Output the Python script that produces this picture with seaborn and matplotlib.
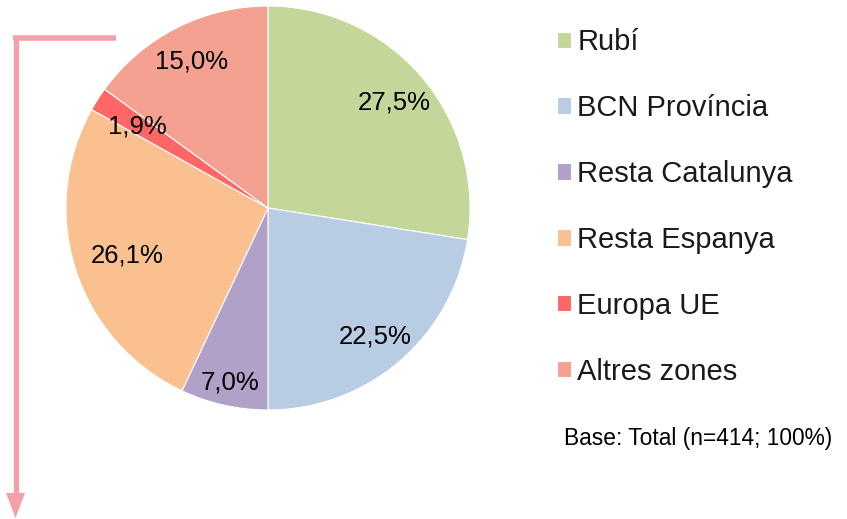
import matplotlib
matplotlib.use("Agg")
import matplotlib.pyplot as plt
import numpy as np
import seaborn as sns
from matplotlib.lines import Line2D
from matplotlib.patches import FancyArrow

sns.set_theme(style="white")
plt.rcParams['font.family'] = ['Liberation Sans', 'DejaVu Sans']

zones  = ['Rubí', 'BCN Província', 'Resta Catalunya', 'Resta Espanya', 'Europa UE', 'Altres zones']
pct    = [27.5, 22.5, 7.0, 26.1, 1.9, 15.0]
colors = ['#C4D79B', '#B8CCE4', '#B1A0C7', '#FAC090', '#FF6666', '#F5A192']
lab_r  = [0.82, 0.82, 0.87, 0.73, 0.77, 0.83]

W, H = 847, 519
fig = plt.figure(figsize=(W / 100, H / 100), dpi=100)
ax = fig.add_axes([66 / W, (H - 410) / H, 404 / W, 404 / H])

pal = sns.color_palette(colors)
wedges, _ = ax.pie(pct, colors=pal, startangle=90, counterclock=False,
                   radius=1, wedgeprops=dict(edgecolor='white', linewidth=0.8))
ax.set_xlim(-1, 1)
ax.set_ylim(-1, 1)
ax.set_aspect('equal')
ax.axis('off')

# percentage labels
cum = np.cumsum([0] + pct[:-1])
for v, c, r in zip(pct, cum, lab_r):
    ang = np.deg2rad(90 - (c + v / 2) * 3.6)
    ax.text(r * np.cos(ang), r * np.sin(ang), f"{v:.1f}%".replace('.', ','),
            ha='center', va='center_baseline', fontsize=18.5, color='black')

# legend
leg = fig.legend(wedges, zones, loc='upper left', bbox_to_anchor=(557 / W, 1 - 28 / H),
                 frameon=False, fontsize=21, handlelength=0.48, handleheight=0.48,
                 handletextpad=0.22, labelspacing=1.30, borderaxespad=0, borderpad=0)
for t in leg.get_texts():
    t.set_color('#1a1a1a')

fig.text(564 / W, 1 - 438 / H, 'Base: Total (n=414; 100%)', fontsize=16.4,
         ha='left', va='center', color='black')

# pink arrow
pink = '#F4A0A8'
fig.add_artist(Line2D([116 / W, 13 / W], [1 - 38 / H, 1 - 38 / H], color=pink,
                      linewidth=4.0, solid_capstyle='butt', transform=fig.transFigure))
fig.add_artist(Line2D([15.5 / W, 15.5 / W], [1 - 36 / H, 1 - 494 / H], color=pink,
                      linewidth=3.8, solid_capstyle='butt', transform=fig.transFigure))
fig.add_artist(FancyArrow(15.5, H - 493, 0, -25, width=0, head_width=19, head_length=25,
                          length_includes_head=True, color=pink, linewidth=0,
                          transform=None))

fig.savefig('out.png', dpi=100)
